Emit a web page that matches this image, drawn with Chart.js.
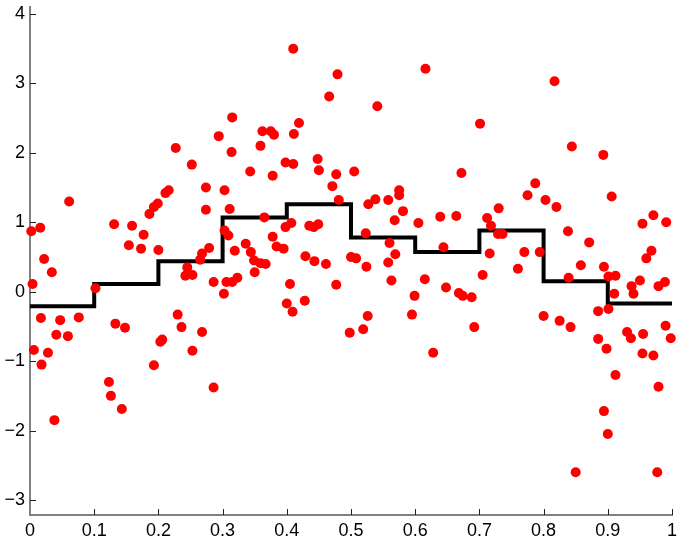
<!DOCTYPE html>
<html>
<head>
<meta charset="utf-8">
<script src="https://cdn.jsdelivr.net/npm/chart.js@4/dist/chart.umd.min.js"></script>
<style>
  html, body { margin: 0; padding: 0; background: #fff; }
  canvas { display: block; }
</style>
</head>
<body>
<canvas id="chart" width="677" height="536"></canvas>
<script>
// Sample points (x, y)
const pointsX = [
  0.315, 0.294, 0.410, 0.479, 0.466, 0.616, 0.541, 0.362, 0.375, 0.380,
  0.419, 0.411, 0.817, 0.701, 0.002, 0.016, 0.061, 0.022, 0.034, 0.131,
  0.159, 0.177, 0.154, 0.173, 0.200, 0.186, 0.193, 0.199, 0.211, 0.216,
  0.227, 0.252, 0.314, 0.274, 0.274, 0.303, 0.311, 0.303, 0.309, 0.319,
  0.279, 0.268, 0.265, 0.245, 0.359, 0.343, 0.378, 0.398, 0.410, 0.448,
  0.450, 0.477, 0.505, 0.471, 0.481, 0.365, 0.398, 0.407, 0.435, 0.442,
  0.449, 0.378, 0.384, 0.395, 0.336, 0.344, 0.349, 0.359, 0.367, 0.429,
  0.443, 0.461, 0.500, 0.508, 0.524, 0.523, 0.527, 0.538, 0.558, 0.575,
  0.575, 0.581, 0.568, 0.605, 0.560, 0.569, 0.558, 0.639, 0.664, 0.644,
  0.672, 0.350, 0.844, 0.893, 0.787, 0.775, 0.803, 0.820, 0.906, 0.730,
  0.712, 0.718, 0.729, 0.736, 0.838, 0.954, 0.971, 0.991, 0.871, 0.716,
  0.770, 0.794, 0.968, 0.960, 0.760, 0.858, 0.894, 0.004, 0.017, 0.047,
  0.076, 0.041, 0.059, 0.006, 0.028, 0.018, 0.102, 0.133, 0.148, 0.123,
  0.126, 0.193, 0.203, 0.206, 0.230, 0.236, 0.253, 0.268, 0.286, 0.242,
  0.253, 0.286, 0.302, 0.306, 0.315, 0.323, 0.405, 0.400, 0.409, 0.428,
  0.477, 0.563, 0.526, 0.519, 0.498, 0.599, 0.595, 0.615, 0.648, 0.668,
  0.628, 0.674, 0.688, 0.705, 0.692, 0.800, 0.825, 0.842, 0.839, 0.901,
  0.912, 0.910, 0.950, 0.937, 0.940, 0.979, 0.989, 0.885, 0.901, 0.885,
  0.898, 0.930, 0.936, 0.955, 0.990, 0.998, 0.954, 0.971, 0.912, 0.979,
  0.038, 0.143, 0.894, 0.900, 0.850, 0.977
];
const pointsY = [
  2.51, 2.24, 3.50, 3.13, 2.81, 3.21, 2.67, 2.31, 2.31, 2.26,
  2.43, 2.27, 3.03, 2.42, 0.87, 0.92, 1.30, 0.47, 0.28, 0.97,
  0.95, 0.82, 0.67, 0.62, 0.60, 1.12, 1.22, 1.27, 1.42, 1.46,
  2.07, 1.83, 2.01, 1.50, 1.18, 1.46, 1.19, 0.88, 0.81, 0.59,
  0.63, 0.55, 0.46, 0.35, 2.10, 1.73, 1.67, 1.86, 1.84, 1.91,
  1.75, 1.69, 1.73, 1.52, 1.32, 1.07, 0.93, 0.99, 0.95, 0.93,
  0.97, 0.79, 0.65, 0.62, 0.69, 0.57, 0.45, 0.41, 0.40, 0.51,
  0.44, 0.40, 0.50, 0.48, 0.36, 0.84, 1.26, 1.33, 1.32, 1.46,
  1.39, 1.16, 1.03, 0.99, 0.70, 0.54, 0.42, 1.08, 1.09, 0.64,
  1.71, 0.28, 2.09, 1.97, 1.56, 1.39, 1.32, 1.22, 1.37, 1.20,
  1.06, 0.95, 0.83, 0.83, 0.87, 0.98, 1.10, 1.00, 0.71, 0.55,
  0.57, 0.57, 0.59, 0.48, 0.33, 0.38, 0.36, 0.11, -0.38, -0.41,
  -0.37, -0.62, -0.64, -0.84, -0.88, -1.05, 0.05, -0.46, -0.52, -1.30,
  -1.50, -1.06, -0.72, -0.69, -0.33, -0.51, -0.85, -0.58, -1.38, 0.23,
  0.24, 0.14, -0.03, 0.14, 0.14, 0.20, 0.11, -0.17, -0.29, -0.13,
  0.10, 0.16, -0.35, -0.54, -0.59, -0.06, -0.33, 0.18, 0.06, -0.02,
  -0.88, -0.06, -0.08, 0.24, -0.51, -0.35, -0.42, -0.51, 0.20, 0.22,
  0.23, -0.03, 0.16, 0.08, -0.03, 0.08, 0.14, -0.28, -0.25, -0.68,
  -0.82, -0.58, -0.67, -0.61, -0.49, -0.67, -0.89, -0.92, -1.20, -1.37,
  -1.85, -1.69, -1.72, -2.05, -2.60, -2.60
];

// Binned means over ten equal-width bins
const binEdges = [0, 0.1, 0.2, 0.3, 0.4, 0.5, 0.6, 0.7, 0.8, 0.9, 1];
const binMeans = [-0.21, 0.11, 0.44, 1.07, 1.26, 0.78, 0.57, 0.88, 0.15, -0.17];

const xTicks = [0, 0.1, 0.2, 0.3, 0.4, 0.5, 0.6, 0.7, 0.8, 0.9, 1];
const yTicks = [-3, -2, -1, 0, 1, 2, 3, 4];

const scatterData = pointsX.map((x, i) => ({ x: x, y: pointsY[i] }));
const stepData = binEdges.map((x, i) => ({ x: x, y: binMeans[Math.min(i, binMeans.length - 1)] }));

const fmt = v => (v < 0 ? '\u2212' + Math.abs(v) : String(v));

// small tick marks pointing into the plot area
const innerTicks = {
  id: 'innerTicks',
  beforeDatasetsDraw(chart) {
    const { ctx, chartArea, scales } = chart;
    ctx.save();
    ctx.strokeStyle = '#222';
    ctx.lineWidth = 1;
    ctx.beginPath();
    scales.x.ticks.forEach(t => {
      if (t.value === 0) return;
      const px = Math.round(scales.x.getPixelForValue(t.value)) + 0.5;
      ctx.moveTo(px, chartArea.bottom);
      ctx.lineTo(px, chartArea.bottom - 6);
    });
    scales.y.ticks.forEach(t => {
      const py = Math.round(scales.y.getPixelForValue(t.value)) + 0.5;
      ctx.moveTo(chartArea.left, py);
      ctx.lineTo(chartArea.left + 6, py);
    });
    ctx.stroke();
    ctx.restore();
  }
};

const tickFont = { family: '"Liberation Sans", Arial, Helvetica, sans-serif', size: 18 };

new Chart(document.getElementById('chart'), {
  type: 'scatter',
  data: {
    datasets: [
      {
        data: scatterData,
        backgroundColor: '#ff0000',
        pointRadius: 5,
        pointBorderWidth: 0,
        pointHoverRadius: 5,
        clip: false,
        order: 0
      },
      {
        data: stepData,
        showLine: true,
        stepped: true,
        borderColor: '#000',
        borderWidth: 4,
        borderJoinStyle: 'miter',
        borderCapStyle: 'butt',
        pointRadius: 0,
        fill: false,
        order: 1
      }
    ]
  },
  options: {
    responsive: false,
    devicePixelRatio: 1,
    animation: false,
    layout: { padding: { top: 7, right: 4, left: 0, bottom: 0 } },
    plugins: {
      legend: { display: false },
      tooltip: { enabled: false }
    },
    scales: {
      x: {
        type: 'linear',
        min: 0,
        max: 1,
        grid: { display: false, drawTicks: false },
        border: { display: true, color: '#808080', width: 2 },
        ticks: {
          color: '#000',
          font: tickFont,
          padding: 5,
          maxRotation: 0,
          callback: v => fmt(v)
        },
        afterBuildTicks: s => { s.ticks = xTicks.map(v => ({ value: v })); },
        afterFit: s => { s.height = 21; s.paddingLeft = 0; s.paddingRight = 0; }
      },
      y: {
        type: 'linear',
        min: -3.216,
        max: 4.1,
        grid: { display: false, drawTicks: false },
        border: { display: true, color: '#808080', width: 2 },
        ticks: {
          color: '#000',
          font: tickFont,
          padding: 5,
          callback: v => fmt(v)
        },
        afterBuildTicks: s => { s.ticks = yTicks.map(v => ({ value: v })); },
        afterFit: s => { s.width = 30; s.paddingTop = 0; s.paddingBottom = 0; }
      }
    }
  },
  plugins: [innerTicks]
});
</script>
</body>
</html>
